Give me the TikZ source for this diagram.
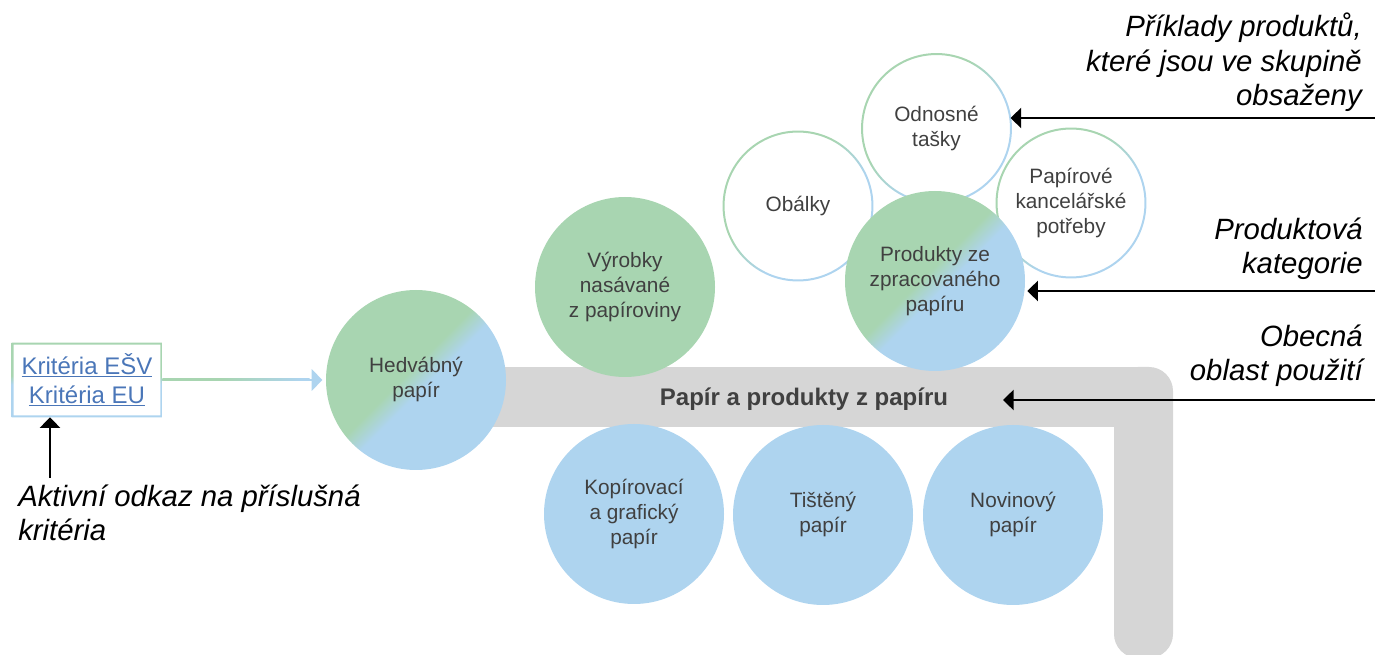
\documentclass[tikz,border=0pt]{standalone}
\usepackage{fontspec}
\setmainfont{Liberation Sans}
\usetikzlibrary{arrows.meta,calc}
\definecolor{grn}{HTML}{A8D5B1}
\definecolor{blu}{HTML}{AED4EF}
\definecolor{barc}{HTML}{D6D6D6}
\definecolor{txt}{HTML}{404040}
\definecolor{lnk}{HTML}{4A76B8}
\pgfdeclareverticalshading{gbsharp}{100bp}{color(0bp)=(blu); color(47bp)=(blu); color(53bp)=(grn); color(100bp)=(grn)}
\pgfdeclareverticalshading{gbsoft}{100bp}{color(0bp)=(blu); color(42bp)=(blu); color(58bp)=(grn); color(100bp)=(grn)}
\pgfdeclarehorizontalshading{gbh}{100bp}{color(0bp)=(grn); color(45bp)=(grn); color(72bp)=(blu); color(100bp)=(blu)}
\begin{document}
\begin{tikzpicture}[x=0.75pt,y=-0.75pt,
  ctext/.style={text=txt, font=\fontsize{15.6pt}{18.75pt}\selectfont, align=center},
  bigc/.style={circle, minimum size=135pt, inner sep=0pt, ctext},
  smallc/.style={circle, minimum size=111.75pt, inner sep=0pt, ctext},
  lab/.style={font=\fontsize{22pt}{25.9pt}\selectfont\itshape, inner sep=0pt},
  blk/.style={black, line width=2pt, -{Triangle[length=8pt,width=15pt]}},
  ringsh/.style={shading=gbsoft, shading angle=45, even odd rule}
]
\useasboundingbox (0,0) rectangle (1375,655);

% grey bar
\fill[barc] (420,367) rectangle (1140,427);
\fill[barc, rounded corners=18pt] (1114,367) rectangle (1173,658);
\node[font=\fontsize{18pt}{21pt}\selectfont\bfseries, text=txt, anchor=base] (bart) at (804,406) {Papír a produkty z papíru};

% bottom circles
\node[bigc, fill=blu] (kop) at (634,514) {Kopírovací\\a grafický\\papír};
\node[bigc, fill=blu] (tis) at (823,515) {Tištěný\\papír};
\node[bigc, fill=blu] (nov) at (1013,515) {Novinový\\papír};

% upper circles
\node[bigc, fill=grn] (vyr) at (625,287) {Výrobky\\nasávané\\z papíroviny};
\node[bigc, shade, shading=gbsharp, shading angle=45] (hed) at (416,380) {Hedvábný\\papír};

\node[smallc] (obal) at (798,206) {Obálky};
\node[smallc] (odn) at (936.5,128.5) {Odnosné\\tašky};
\node[smallc] (pap) at (1071,203) {Papírové\\kancelářské\\potřeby};
\foreach \n in {obal,odn,pap}
  \shade[ringsh] (\n.center) circle[radius=56.6pt] (\n.center) circle[radius=55.1pt];

\node[bigc, shade, shading=gbsharp, shading angle=45] (prod) at (935,281) {Produkty ze\\zpracovaného\\papíru};

% criteria box
\node[minimum width=112.5pt, minimum height=55.5pt, inner sep=0pt, text=lnk,
      font=\fontsize{18pt}{21.75pt}\selectfont, align=center] (crit) at (87,380)
      {\underline{Kritéria EŠV}\\\underline{Kritéria EU}};
\shade[shading=gbsharp, even odd rule] (crit.south west) rectangle (crit.north east)
   ([shift={(2,-2)}]crit.south west) rectangle ([shift={(-2,2)}]crit.north east);

% gradient arrow box -> Hedvabny
\draw[blu, line width=1.5pt, -{Triangle[length=8pt,width=16pt]}] (crit.east) -- ([xshift=-2.5pt]hed.west);
\shade[shading=gbh] ($(crit.east)+(0,-1)$) rectangle ($(hed.west)+(-16,1)$);

% labels (base anchor = baseline of last line)
\node[lab, anchor=base east, align=right] (lb1) at (1362,106) {Příklady produktů,\\které jsou ve skupině\\obsaženy};
\node[lab, anchor=base east, align=right] (lb2) at (1363,274) {Produktová\\kategorie};
\node[lab, anchor=base east, align=right] (lb3) at (1363,381) {Obecná\\oblast použití};
\node[lab, anchor=base west, align=left] (lb4) at (18,541) {Aktivní odkaz na příslušná\\kritéria};

% black arrows
\coordinate (r1) at (1375,118);
\draw[blk] (r1) -- (r1 -| odn.8);
\coordinate (r2) at (1375,291);
\draw[blk] (r2) -- ($(r2 -| prod.east)+(2,0)$);
\coordinate (r3) at (1375,400);
\coordinate (b3) at (1003,400);
\draw[blk] (r3) -- (b3);
\coordinate (l1) at (50,478);
\draw[blk] (l1) -- (l1 |- crit.south);
\end{tikzpicture}
\end{document}
